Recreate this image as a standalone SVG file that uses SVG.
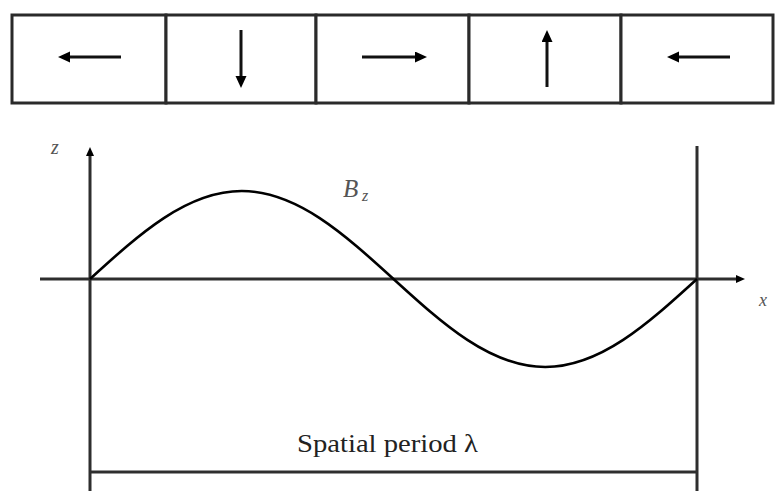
<svg xmlns="http://www.w3.org/2000/svg" width="775" height="491" viewBox="0 0 775 491">
<style>
.cell{fill:#fff;stroke:#2a2a2a;stroke-width:3}
.arr{stroke:#111;stroke-width:3;fill:none;marker-end:url(#head)}
.axis{stroke:#2e2e2e;stroke-width:3;fill:none}
.curve{stroke:#000;stroke-width:2.6;fill:none;stroke-linejoin:round}
.lbl{font-family:"Liberation Serif",serif;font-style:italic;fill:#555}
.cap{font-family:"Liberation Serif",serif;font-size:25px;fill:#222}
</style>
<defs>
<marker id="head" markerUnits="userSpaceOnUse" markerWidth="14" markerHeight="12" refX="2" refY="5.5" orient="auto">
<path d="M0,0 L12,5.5 L0,11 z" fill="#000"/>
</marker>
<marker id="ahead" markerUnits="userSpaceOnUse" markerWidth="10" markerHeight="10" refX="1" refY="4" orient="auto">
<path d="M0,0 L9,4 L0,8 z" fill="#000"/>
</marker>
</defs>
<rect width="775" height="491" fill="#fff"/>
<g id="cell1"><rect class="cell" x="12" y="15" width="154" height="88"/><line class="arr" x1="121" y1="57" x2="68" y2="57"/></g>
<g id="cell2"><rect class="cell" x="166" y="15" width="150" height="88"/><line class="arr" x1="241" y1="30" x2="241" y2="78"/></g>
<g id="cell3"><rect class="cell" x="316" y="15" width="153" height="88"/><line class="arr" x1="362" y1="57" x2="417" y2="57"/></g>
<g id="cell4"><rect class="cell" x="469" y="15" width="152" height="88"/><line class="arr" x1="547" y1="87" x2="547" y2="40"/></g>
<g id="cell5"><rect class="cell" x="621" y="15" width="152" height="88"/><line class="arr" x1="730" y1="57" x2="677" y2="57"/></g>
<g id="connectors">
<line class="axis" x1="40" y1="279" x2="737" y2="279" marker-end="url(#ahead)"/>
<line class="axis" x1="90" y1="491" x2="90" y2="155" marker-end="url(#ahead)"/>
<line class="axis" x1="697" y1="146" x2="697" y2="491"/>
<line class="axis" x1="90" y1="472" x2="697" y2="472" stroke="#1a1a1a"/>
</g>
<g id="curve">
<path class="curve" d="M90,279 C139.5,233.9 186.8,191 241.75,191 C296.7,191 344,233.9 393.5,279 C443,324.1 490.3,367 545.25,367 C600.2,367 647.5,324.1 697,279"/>
</g>
<g id="labels">
<text class="lbl" x="51" y="154" font-size="20" fill="#888">z</text>
<text class="lbl" x="343" y="197" font-size="25" fill="#333">B</text>
<text class="lbl" x="362" y="201" font-size="16" fill="#666">z</text>
<text class="lbl" x="759" y="306" font-size="18">x</text>
<text class="cap" x="297" y="452" textLength="181" lengthAdjust="spacingAndGlyphs">Spatial period λ</text>
</g>
</svg>
